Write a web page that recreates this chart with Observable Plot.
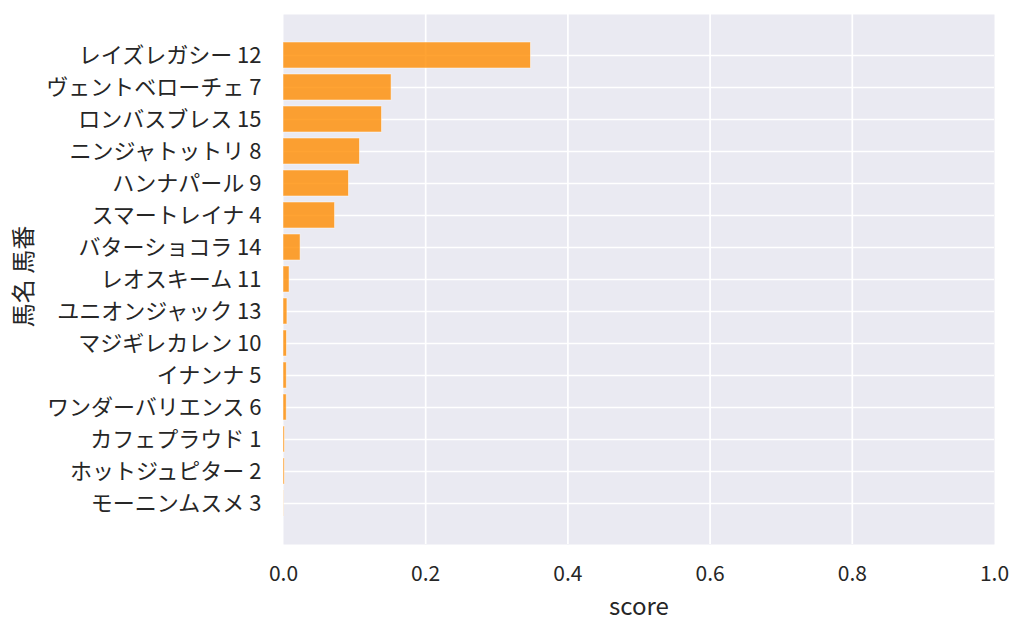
<!DOCTYPE html>
<html>
<head>
<meta charset="utf-8">
<script src="https://cdn.jsdelivr.net/npm/d3@7"></script>
<script src="https://cdn.jsdelivr.net/npm/@observablehq/plot@0.6"></script>
<style>
  html, body { margin: 0; padding: 0; background: #ffffff; }
</style>
</head>
<body>
<div id="chart"></div>
<script>
const horseNames = [
  "レイズレガシー 12",
  "ヴェントベローチェ 7",
  "ロンバスブレス 15",
  "ニンジャトットリ 8",
  "ハンナパール 9",
  "スマートレイナ 4",
  "バターショコラ 14",
  "レオスキーム 11",
  "ユニオンジャック 13",
  "マジギレカレン 10",
  "イナンナ 5",
  "ワンダーバリエンス 6",
  "カフェプラウド 1",
  "ホットジュピター 2",
  "モーニンムスメ 3"
];
const scores = [0.348, 0.152, 0.1385, 0.1075, 0.092, 0.0725, 0.024, 0.0085, 0.0055, 0.0048, 0.0046, 0.0045, 0.0020, 0.0018, 0.0003];
const xTicks = [0, 0.2, 0.4, 0.6, 0.8, 1.0];
const xGridTicks = [0.2, 0.4, 0.6, 0.8];
const xLabel = "score";
const yLabel = "馬名 馬番";

const data = horseNames.map((name, i) => ({name, score: scores[i]}));

const chart = Plot.plot({
  width: 1024,
  height: 634,
  marginLeft: 283,
  marginRight: 30,
  marginTop: 14,
  marginBottom: 90,
  style: {
    background: "#ffffff",
    fontFamily: "'Noto Sans CJK JP', 'Noto Sans', sans-serif",
    fontSize: "21px",
    color: "#262626"
  },
  x: {domain: [0, 1]},
  y: {domain: horseNames, paddingInner: 0.2, paddingOuter: 0.74, align: 0.5},
  marks: [
    Plot.frame({fill: "#EAEAF2", stroke: null}),
    Plot.gridX({ticks: xGridTicks, stroke: "#ffffff", strokeOpacity: 1, strokeWidth: 1.7}),
    Plot.gridY({stroke: "#ffffff", strokeOpacity: 1, strokeWidth: 1.7}),
    Plot.barX(data, {x: "score", y: "name", fill: "darkorange", fillOpacity: 0.8, stroke: "#ffffff", strokeOpacity: 0.6, strokeWidth: 0.8}),
    Plot.axisX({ticks: xTicks, tickFormat: d3.format(".1f"), tickSize: 0, tickPadding: 22, label: null, fill: "#262626"}),
    Plot.axisY({tickSize: 0, tickPadding: 22, label: null, fill: "#262626", fontSize: 22}),
    Plot.text([xLabel], {frameAnchor: "bottom", lineAnchor: "top", dy: 53, fontSize: 24, fill: "#262626"}),
    Plot.text([yLabel], {frameAnchor: "left", rotate: -90, textAnchor: "middle", lineAnchor: "middle", dx: -259, dy: -3, fontSize: 24, fill: "#262626"})
  ]
});
document.getElementById("chart").appendChild(chart);
</script>
</body>
</html>
